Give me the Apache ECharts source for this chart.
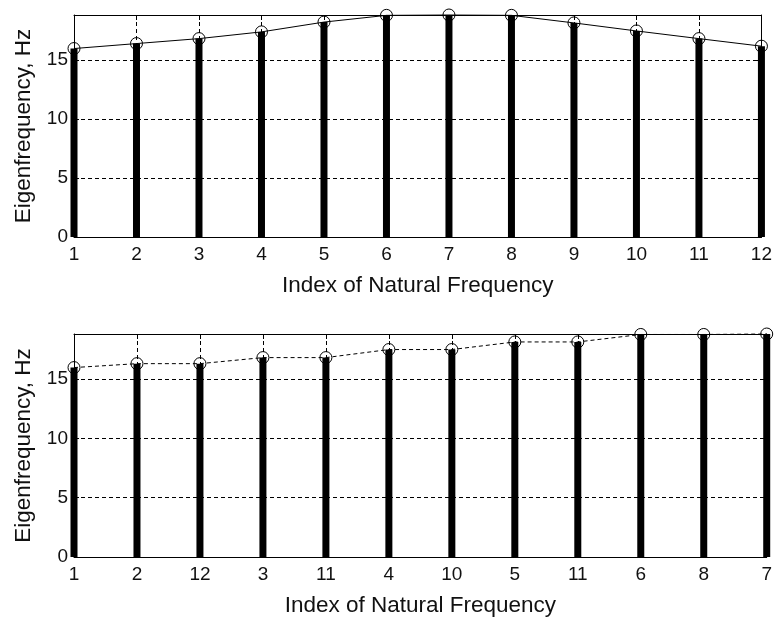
<!DOCTYPE html>
<html>
<head>
<meta charset="utf-8">
<script src="https://cdn.jsdelivr.net/npm/echarts@6/dist/echarts.min.js"></script>
<style>
  html, body { margin: 0; padding: 0; background: #fff; }
  #chart { width: 775px; height: 618px; }
</style>
</head>
<body>
<div id="chart"></div>
<script>
// Natural frequencies of the 12 modes, in index order (upper panel)
const modeIndex = [1, 2, 3, 4, 5, 6, 7, 8, 9, 10, 11, 12];
const freqByIndex = [15.96, 16.38, 16.8, 17.37, 18.2, 18.77, 18.8, 18.77, 18.13, 17.45, 16.8, 16.16];

// Same frequencies sorted ascending (lower panel) and their mode labels
const sortedLabels = ['1', '2', '12', '3', '11', '4', '10', '5', '11', '6', '8', '7'];
const sortedFreq = [15.97, 16.3, 16.3, 16.81, 16.81, 17.49, 17.49, 18.13, 18.13, 18.76, 18.76, 18.8];

const yTicks = [0, 5, 10, 15];
const yMax = 18.8;

const FONT = '"Liberation Sans", Arial, sans-serif';
const dash = [4, 3];

function pairs(vals) { return vals.map((v, i) => [modeIndex[i], v]); }

function xAxisPair(gridIndex, formatter) {
  return [
    {
      type: 'value', gridIndex, min: 1, max: 12, interval: 1, position: 'bottom',
      name: 'Index of Natural Frequency', nameLocation: 'middle', nameGap: 37,
      nameTextStyle: { fontFamily: FONT, fontSize: 22.5, color: '#111' },
      axisLine: { show: true, onZero: false, lineStyle: { color: '#000', width: 1 } },
      axisTick: { show: true, inside: true, length: 5, lineStyle: { color: '#000' } },
      axisLabel: { fontFamily: FONT, fontSize: 19, color: '#111', margin: 8, formatter },
      splitLine: { show: true, lineStyle: { color: '#000', type: dash, width: 1 } }
    },
    {
      type: 'value', gridIndex, min: 1, max: 12, interval: 1, position: 'top',
      axisLine: { show: true, onZero: false, lineStyle: { color: '#000', width: 1 } },
      axisTick: { show: true, inside: true, length: 5, lineStyle: { color: '#000' } },
      axisLabel: { show: false },
      splitLine: { show: false }
    }
  ];
}

function yAxisPair(gridIndex) {
  return [
    {
      type: 'value', gridIndex, min: 0, max: yMax, interval: 5, position: 'left',
      name: 'Eigenfrequency, Hz', nameLocation: 'middle', nameGap: 39,
      nameTextStyle: { fontFamily: FONT, fontSize: 22.5, color: '#111' },
      axisLine: { show: true, onZero: false, lineStyle: { color: '#000', width: 1 } },
      axisTick: { show: true, inside: true, length: 5, lineStyle: { color: '#000' } },
      axisLabel: {
        fontFamily: FONT, fontSize: 19, color: '#111', margin: 6,
        formatter: v => (yTicks.indexOf(v) >= 0 ? String(v) : '')
      },
      splitLine: { show: true, lineStyle: { color: '#000', type: dash, width: 1 } }
    },
    {
      type: 'value', gridIndex, min: 0, max: yMax, interval: 5, position: 'right',
      axisLine: { show: true, onZero: false, lineStyle: { color: '#000', width: 1 } },
      axisTick: { show: true, inside: true, length: 5, lineStyle: { color: '#000' } },
      axisLabel: { show: false },
      splitLine: { show: false }
    }
  ];
}

function stems(axisIdx, vals) {
  return {
    type: 'bar', xAxisIndex: axisIdx, yAxisIndex: axisIdx,
    data: pairs(vals), barWidth: 7, clip: true,
    itemStyle: { color: '#000' }, silent: true, z: 3
  };
}

function curve(axisIdx, vals, lineType) {
  return {
    type: 'line', xAxisIndex: axisIdx, yAxisIndex: axisIdx,
    data: pairs(vals), clip: false,
    symbol: 'circle', symbolSize: 12, showAllSymbol: true,
    lineStyle: { color: '#000', width: 1, type: lineType },
    itemStyle: { color: 'rgba(0,0,0,0)', borderColor: '#000', borderWidth: 1 },
    silent: true, z: 4, animation: false
  };
}

const chart = echarts.init(document.getElementById('chart'), null, { renderer: 'canvas' });
chart.setOption({
  animation: false,
  backgroundColor: '#fff',
  grid: [
    { left: 74, right: 8, top: 15, height: 222, show: false },
    { left: 74, right: 8, top: 334, height: 223, show: false }
  ],
  xAxis: [
    ...xAxisPair(0, v => String(v)),
    ...xAxisPair(1, v => sortedLabels[v - 1])
  ],
  yAxis: [
    ...yAxisPair(0),
    ...yAxisPair(1)
  ],
  series: [
    stems(0, freqByIndex),
    curve(0, freqByIndex, 'solid'),
    stems(2, sortedFreq),
    curve(2, sortedFreq, dash)
  ]
});
</script>
</body>
</html>
